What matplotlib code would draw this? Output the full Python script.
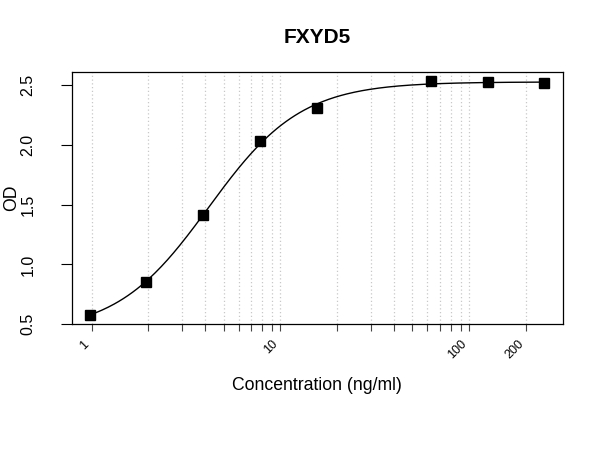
import numpy as np
import matplotlib
matplotlib.use("Agg")
import matplotlib.pyplot as plt

plt.rcParams["font.family"] = ["Liberation Sans", "DejaVu Sans"]

# standard curve readings
conc = [0.98, 1.95, 3.9, 7.8, 15.6, 62.5, 125, 250]
od = [0.58, 0.855, 1.415, 2.03, 2.31, 2.535, 2.525, 2.515]
xticks = [1, 10, 100, 200]
grid_x = [1, 2, 3, 4, 5, 6, 7, 8, 9, 10, 20, 30, 40, 50, 60, 70, 80, 90, 100, 200]
yticks = [0.5, 1.0, 1.5, 2.0, 2.5]

x = np.array(conc)
y = np.array(od)


# 4PL fit: y = d + (a - d) / (1 + (x/c)^b); a, d solved linearly for each (b, c)
def fit_4pl(x, y):
    best = None
    for b in np.linspace(0.5, 4, 141):
        for logc in np.linspace(-0.5, 2, 251):
            f = 1 / (1 + (x / 10 ** logc) ** b)
            A = np.column_stack([f, 1 - f])
            coef, *_ = np.linalg.lstsq(A, y, rcond=None)
            err = np.sum((A @ coef - y) ** 2)
            if best is None or err < best[0]:
                best = (err, coef[0], b, 10 ** logc, coef[1])
    return best[1:]


a, b, c, d = fit_4pl(x, y)
xs = np.logspace(np.log10(x.min()), np.log10(x.max()), 300)
ys = d + (a - d) / (1 + (xs / c) ** b)

fig = plt.figure(figsize=(6, 4.5), dpi=100)
ax = fig.add_axes([0.1195, 0.2793, 0.8183, 0.5614])

for g in grid_x:
    ax.axvline(g, color="#c8c8c8", linestyle=(0, (1, 2)), linewidth=0.9, zorder=0)

ax.plot(xs, ys, color="black", linewidth=1.0, zorder=2)
ax.plot(x, y, "s", color="black", markersize=7.2, zorder=3)

ax.set_xscale("log")
ax.margins(x=0.04, y=0.04)

ax.set_xticks(grid_x)
ax.set_xticklabels([str(v) if v in xticks else "" for v in grid_x],
                   rotation=45, ha="right", fontsize=9)
ax.xaxis.set_minor_locator(matplotlib.ticker.NullLocator())
ax.tick_params(axis="x", length=5, width=0.8, pad=5, color="#444444")

ax.set_yticks(yticks)
ax.set_yticklabels([f"{v:.1f}" for v in yticks], rotation=90, va="center", fontsize=11.5)
ax.tick_params(axis="y", length=8, width=0.8, pad=18)

for s in ax.spines.values():
    s.set_linewidth(0.9)

ax.set_xlabel("Concentration (ng/ml)", fontsize=12.7, va="center")
ax.xaxis.set_label_coords(0.5, -0.244)
ax.set_ylabel("OD", fontsize=12.7, va="center")
ax.yaxis.set_label_coords(-0.1216, 0.5)

ax.text(0.5, 1.137, "FXYD5", transform=ax.transAxes, ha="center", va="center",
        fontsize=15, fontweight="bold")

fig.savefig("out.png", dpi=100)
